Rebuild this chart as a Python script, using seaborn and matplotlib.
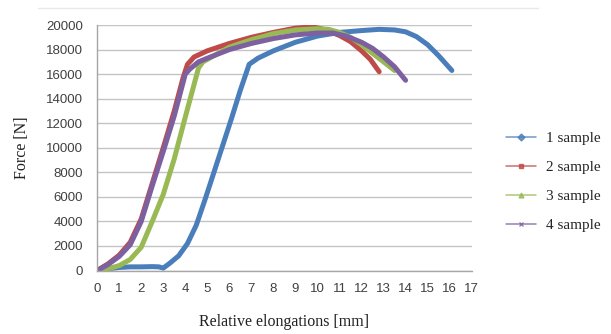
import numpy as np
import pandas as pd
import matplotlib
matplotlib.use("Agg")
import matplotlib.pyplot as plt
from matplotlib.lines import Line2D
import seaborn as sns

# Force-elongation curves
elong_1 = [0, 0.5, 1, 1.5, 2, 2.5, 2.8, 3.0, 3.3, 3.7, 4.1, 4.5, 4.9, 5.3, 5.7, 6.1,
           6.5, 6.9, 7.3, 8, 9, 10, 11, 12, 12.8, 13.5, 14, 14.5, 15, 15.5, 16.1]
force_1 = [0, 150, 250, 300, 300, 320, 300, 200, 600, 1200, 2200, 3700, 5800, 8000, 10200, 12400,
           14700, 16800, 17300, 17900, 18600, 19100, 19400, 19550, 19650, 19600, 19450, 19050, 18400, 17500, 16300]

elong_2 = [0, 0.5, 1, 1.5, 2, 2.5, 3, 3.5, 3.9, 4.1, 4.4, 5, 6, 7, 8, 9, 9.8,
           10.4, 11, 11.5, 12, 12.4, 12.8]
force_2 = [0, 550, 1250, 2300, 4200, 7100, 10000, 13000, 15700, 16800, 17400, 17900, 18500, 19000, 19400, 19750, 19850,
           19600, 19150, 18650, 17900, 17200, 16200]

elong_3 = [0, 0.5, 1, 1.5, 2, 2.5, 3, 3.5, 4, 4.3, 4.6, 4.8, 5.2, 6, 7, 8, 9, 10,
           10.5, 11, 11.5, 12, 12.5, 13, 13.5]
force_3 = [0, 150, 400, 900, 1900, 4000, 6200, 9100, 12500, 14500, 16500, 17000, 17400, 18200, 18800, 19300, 19600, 19700,
           19650, 19400, 19000, 18400, 17700, 17000, 16300]

elong_4 = [0, 0.5, 1, 1.5, 2, 2.5, 3, 3.5, 4.0, 4.2, 4.6, 5, 6, 7, 8, 9, 10,
           10.7, 11.3, 12, 12.5, 13, 13.5, 14]
force_4 = [0, 500, 1150, 2100, 4000, 6900, 9700, 12600, 16000, 16400, 17000, 17300, 18000, 18500, 18900, 19200, 19350,
           19350, 19100, 18600, 18100, 17400, 16600, 15500]

samples = ["1 sample", "2 sample", "3 sample", "4 sample"]
colors = ["#4A7EBB", "#BE4B48", "#98B954", "#7D60A0"]
markers = ["D", "s", "^", "x"]

frames = []
for name, xs, ys in zip(samples, [elong_1, elong_2, elong_3, elong_4],
                        [force_1, force_2, force_3, force_4]):
    frames.append(pd.DataFrame({"elong": xs, "force": ys, "sample": name}))
df = pd.concat(frames, ignore_index=True)

sns.set_style("white")
plt.rcParams["font.family"] = ["Liberation Sans", "DejaVu Sans"]

fig = plt.figure(figsize=(6.11, 3.34), dpi=100)
ax = fig.add_axes([0.159, 0.19, 0.613, 0.735])

sns.lineplot(data=df, x="elong", y="force", hue="sample", palette=colors,
             sort=False, estimator=None, linewidth=3.6, legend=False, ax=ax,
             solid_capstyle="round", solid_joinstyle="round")

ax.set_xlim(0, 17)
ax.set_ylim(0, 20000)
ax.set_xticks(range(0, 18))
ax.set_yticks(range(0, 20001, 2000))
ax.yaxis.grid(True, color="#c4c4c4", linewidth=1.0)
ax.set_axisbelow(True)
for s in ["top", "right"]:
    ax.spines[s].set_visible(False)
for s in ["left", "bottom"]:
    ax.spines[s].set_color("#a6a6a6")
    ax.spines[s].set_linewidth(1.0)
ax.tick_params(axis="both", labelsize=9.5, colors="#a6a6a6", labelcolor="#404040",
               length=4, width=1, direction="out")
ax.tick_params(axis="x", pad=5)
ax.tick_params(axis="y", pad=6)

ax.set_xlabel("Relative elongations [mm]", family="Liberation Serif", fontsize=11.5,
              color="#222222", labelpad=14)
ax.set_ylabel("Force [N]", family="Liberation Serif", fontsize=11.5,
              color="#222222", labelpad=12)

handles = [Line2D([0], [0], color=c, marker=m, markersize=3.5, linewidth=1.1,
                  markeredgewidth=1.0, alpha=0.8)
           for c, m in zip(colors, markers)]
leg = fig.legend(handles, samples, loc="upper left", bbox_to_anchor=(0.805, 0.648),
                 frameon=False, handlelength=2.0, handletextpad=0.65, labelspacing=1.0,
                 prop={"family": "Liberation Serif", "size": 11})

fig.add_artist(Line2D([0.062, 0.88], [0.976, 0.976], color="#e8e8e8", linewidth=1.0))

fig.savefig("out.png", dpi=100)
